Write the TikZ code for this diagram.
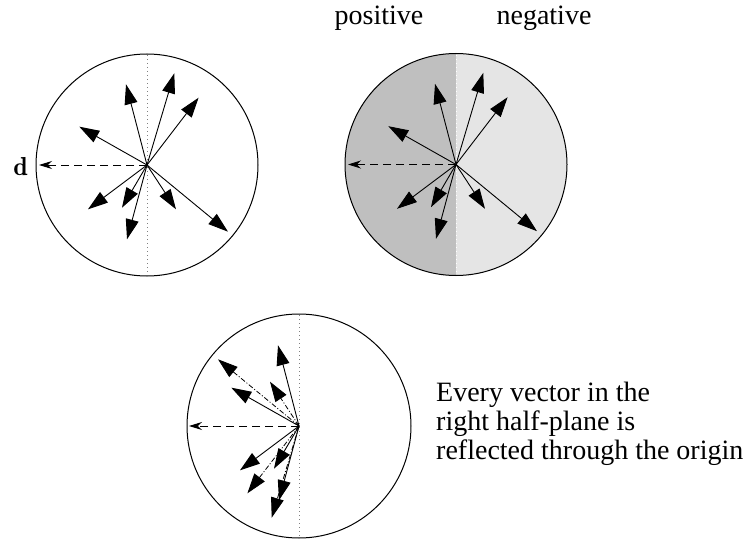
\documentclass[tikz,border=0pt]{standalone}
\usepackage[no-math]{fontspec}
\setmainfont{Liberation Serif}
\usetikzlibrary{arrows.meta}

\begin{document}
\begin{tikzpicture}[x=1pt,y=-1pt,>={Triangle[length=20pt,width=13pt]},
  vec/.style={->,line width=0.9pt},
  refl/.style={->,line width=0.8pt,dash pattern=on 5pt off 2pt on 1pt off 2pt},
  dvec/.style={-{Stealth[length=13pt,width=8pt]},line width=0.9pt,dash pattern=on 8pt off 5pt},
  axis/.style={gray,line width=1pt,dash pattern=on 1pt off 3pt},
  rim/.style={line width=1pt},
  lbl/.style={font=\fontsize{28}{29}\selectfont,inner sep=0pt}]
\useasboundingbox (0,0) rectangle (755,543);
% upper left disc
\coordinate (o1) at (147,165);
\draw[rim] (o1) circle[radius=111pt];
\draw[axis] (147,55) -- (147,275);
\foreach \dx/\dy in {-21/-80.7,27.3/-91.7,51.6/-67.3,-67.7/-38.3,-59/44.3,-25/42.7,-20/74.3,29/44.3,81/66.7}
  \draw[vec] (o1) -- ++(\dx,\dy);
\draw[dvec] (o1) -- ++(-108,0) coordinate (d1);
\node[inner sep=0pt,left=11pt,yshift=-2pt] (dlab) at (d1) {\fontfamily{lmr}\fontsize{26}{26}\selectfont\bfseries d};
% upper right disc, split in halves
\coordinate (o2) at (456,164.5);
\begin{scope}
\clip (o2) circle[radius=111pt];
\fill[black!25] (340,50) rectangle (456,280);
\fill[black!10] (456,50) rectangle (572,280);
\end{scope}
\draw[axis,white] (456,55) -- (456,275);
\draw[rim] (o2) circle[radius=111pt];
\foreach \dx/\dy in {-21/-80.7,27.3/-91.7,51.6/-67.3,-67.7/-38.3,-59/44.3,-25/42.7,-20/74.3,29/44.3,81/66.7}
  \draw[vec] (o2) -- ++(\dx,\dy);
\draw[dvec] (o2) -- ++(-108,0);
\node[lbl,anchor=base] (pos) at (379,25) {positive};
\node[lbl,anchor=base] (neg) at (544,25) {negative};
% lower disc: right half reflected
\coordinate (o3) at (299,426);
\draw[rim] (o3) circle[radius=112pt];
\draw[axis] (299,315) -- (299,537);
\foreach \dx/\dy in {-21/-80.7,-67.7/-38.3,-59/44.3,-25/42.7,-20/74.3}
  \draw[vec] (o3) -- ++(\dx,\dy);
\foreach \dx/\dy in {-27.3/91.7,-51.6/67.3,-29/-44.3,-81/-66.7}
  \draw[refl] (o3) -- ++(\dx,\dy);
\draw[dvec] (o3) -- ++(-110,0);
\node[lbl,anchor=base west] (txt1) at (436,401.7) {Every vector in the};
\node[lbl,anchor=base west] (txt2) at (436,430.7) {right half-plane is};
\node[lbl,anchor=base west] (txt3) at (436,459.7) {reflected through the origin};
\end{tikzpicture}
\end{document}
